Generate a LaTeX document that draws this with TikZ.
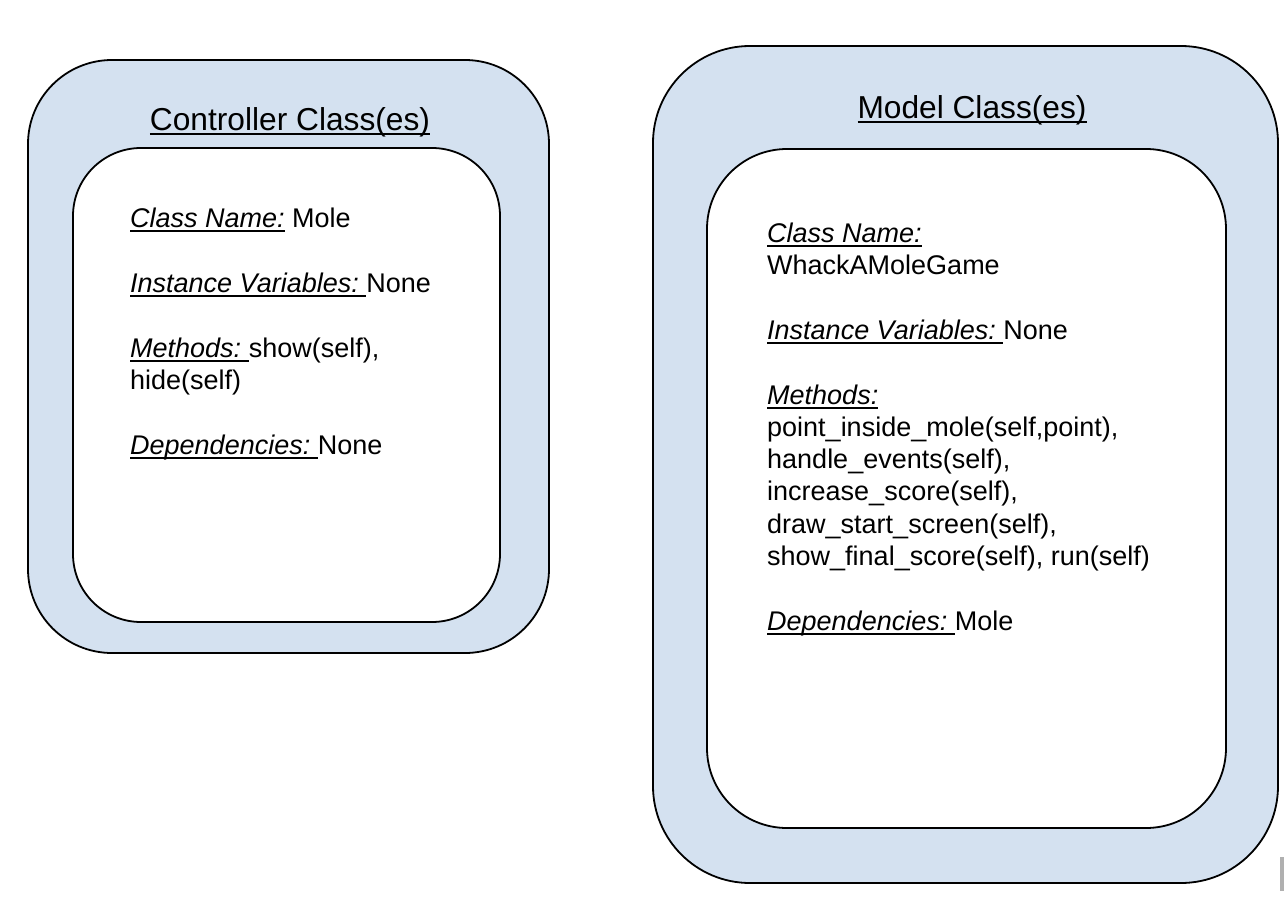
\documentclass[tikz,border=0pt]{standalone}
\usepackage{fontspec}
\setmainfont{Liberation Sans}
\definecolor{boxblue}{RGB}{212,225,240}
\definecolor{bargray}{RGB}{176,176,176}
\newcommand\myul[1]{\setbox0\hbox{#1}\rlap{\rule[-4.5pt]{\wd0}{2pt}}\box0\relax}
\newcommand\myult[1]{\setbox0\hbox{#1}\rlap{\rule[-5pt]{\wd0}{2.2pt}}\box0\relax}
\begin{document}
\begin{tikzpicture}[x=1pt,y=-1pt,
  outerbox/.style={draw=black,line width=1.8pt,fill=boxblue},
  innerbox/.style={draw=black,line width=1.8pt,fill=white},
  body/.style={anchor=base west,inner sep=0pt,font=\fontsize{27}{32}\selectfont},
  title/.style={anchor=base,inner sep=0pt,font=\fontsize{31.7}{38}\selectfont}]
\useasboundingbox (0,0) rectangle (1286,916);
% Controller box
\draw[outerbox,rounded corners=84pt] (28,60) rectangle (549,653);
\draw[innerbox,rounded corners=68pt] (73,148) rectangle (500,622);
\node[title] (ctitle) at (290,130) {\myult{Controller Class(es)}};
\node[body] (c1) at (130,227) {\myul{\textit{Class Name:}} Mole};
\node[body] (c2) at (130,292) {\myul{\textit{Instance Variables:\ }}None};
\node[body] (c3) at (130,357) {\myul{\textit{Methods:\ }}show(self),};
\node[body] (c4) at (130,389) {hide(self)};
\node[body] (c5) at (130,454) {\myul{\textit{Dependencies:\ }}None};
% Model box
\draw[outerbox,rounded corners=97pt] (653,46) rectangle (1278,883);
\draw[innerbox,rounded corners=80pt] (707,149) rectangle (1226,828);
\node[title] (mtitle) at (972,118) {\myult{Model Class(es)}};
\node[body] (m1) at (767,242) {\myul{\textit{Class Name:}}};
\node[body] (m2) at (767,274) {WhackAMoleGame};
\node[body] (m3) at (767,339) {\myul{\textit{Instance Variables:\ }}None};
\node[body] (m4) at (767,404) {\myul{\textit{Methods:}}};
\node[body] (m5) at (767,436) {point\_inside\_mole(self,point),};
\node[body] (m6) at (767,468) {handle\_events(self),};
\node[body] (m7) at (767,500) {increase\_score(self),};
\node[body] (m8) at (767,533) {draw\_start\_screen(self),};
\node[body] (m9) at (767,565) {show\_final\_score(self), run(self)};
\node[body] (m10) at (767,630) {\myul{\textit{Dependencies:\ }}Mole};
% small gray bar
\fill[bargray] (1280,857) rectangle (1284,891);
\end{tikzpicture}
\end{document}
